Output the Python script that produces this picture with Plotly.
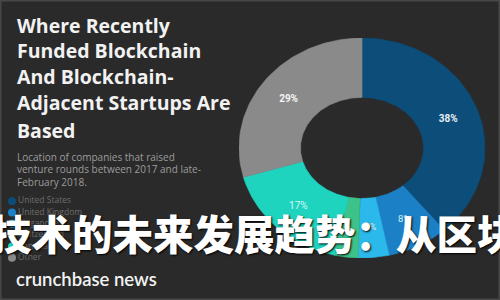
import numpy as np
import plotly.graph_objects as go

# ---- data ----
countries = ["United States", "United Kingdom", "Singapore", "Switzerland", "Canada", "Other"]
shares = [38, 8, 4, 3, 17, 29]
slice_labels = ["<b>38%</b>", "8%", "4%", "", "17%", "<b>29%</b>"]
title_lines = ["Where Recently", "Funded Blockchain", "And Blockchain-",
               "Adjacent Startups Are", "Based"]
subtitle_lines = ["Location of companies that raised",
                  "venture rounds between 2017 and late-",
                  "February 2018."]
overlay_text = "技术的未来发展趋势：从区块"
brand_text = "crunchbase news"

# ---- styles ----
BG = "#2a2a2a"
slice_colors = ["#0c4d7a", "#1b80c6", "#2bb8ea", "#3dc289", "#1fd4bf", "#8a8a8a"]
label_colors = ["#e8eef2", "#d8eefa", "#d5f3fb", "#ffffff", "#d9f7f3", "#f4f4f4"]
label_sizes = [10, 9.5, 8.5, 8, 10, 10]
HOLE_X, HOLE_Y = 0.50, 0.46

fig = go.Figure()

# ---- donut: wedges computed from the shares, drawn on axes x2/y2 ----
vals = np.asarray(shares, dtype=float)
edges = np.concatenate([[0.0], np.cumsum(vals)]) / vals.sum() * 2 * np.pi
for i, country in enumerate(countries):
    t = np.linspace(edges[i], edges[i + 1], 80)
    xs = np.concatenate([np.sin(t), HOLE_X * np.sin(t[::-1])])
    ys = np.concatenate([np.cos(t), HOLE_Y * np.cos(t[::-1])])
    fig.add_trace(go.Scatter(
        x=np.append(xs, xs[0]), y=np.append(ys, ys[0]),
        mode="lines", fill="toself", fillcolor=slice_colors[i],
        line=dict(color=slice_colors[i], width=0.6),
        name=country, hoverinfo="skip", xaxis="x2", yaxis="y2",
    ))

mid = (edges[:-1] + edges[1:]) / 2
fig.add_trace(go.Scatter(
    x=(1 + HOLE_X) / 2 * np.sin(mid), y=(1 + HOLE_Y) / 2 * np.cos(mid),
    mode="text", text=slice_labels,
    textfont=dict(family="Roboto", size=label_sizes, color=label_colors),
    hoverinfo="skip", xaxis="x2", yaxis="y2",
))

# ---- legend drawn as a marker column on its own axes ----
fig.add_trace(go.Scatter(
    x=[0] * len(countries),
    y=countries,
    mode="markers+text",
    marker=dict(size=8, color=slice_colors, symbol="circle"),
    text=countries,
    textposition="middle right",
    textfont=dict(family="Open Sans", size=8.5, color="#6c6c6c"),
    hoverinfo="skip",
    cliponaxis=False,
))

annotations = []
title_y = [25, 50.5, 76.5, 103, 130]
for line, yp in zip(title_lines, title_y):
    annotations.append(dict(
        text=line, x=15 / 500, y=1 - yp / 300, xref="paper", yref="paper",
        xanchor="left", yanchor="middle", showarrow=False,
        font=dict(family="Open Sans", size=19.5, color="#f2f2f2", weight=700)))
sub_y = [157, 169.5, 182]
for line, yp in zip(subtitle_lines, sub_y):
    annotations.append(dict(
        text=line, x=15 / 500, y=1 - yp / 300, xref="paper", yref="paper",
        xanchor="left", yanchor="middle", showarrow=False,
        font=dict(family="Open Sans", size=10, color="#9c9c9c")))
annotations.append(dict(
    text=brand_text, x=14 / 500, y=1 - 279 / 300, xref="paper", yref="paper",
    xanchor="left", yanchor="middle", showarrow=False,
    font=dict(family="Lato", size=18.5, color="#f2f2f2", weight=600)))
annotations.append(dict(
    text=overlay_text, x=254 / 500, y=1 - 233 / 300, xref="paper", yref="paper",
    xanchor="center", yanchor="middle", showarrow=False,
    font=dict(family="Noto Sans CJK SC", size=40.5, color="#ffffff", weight=900,
              shadow="1px 1px 2px #000000")))

fig.update_layout(
    width=500, height=300,
    margin=dict(l=0, r=0, t=0, b=0),
    paper_bgcolor=BG, plot_bgcolor="rgba(0,0,0,0)",
    showlegend=False,
    xaxis=dict(domain=[12 / 500, 0.3], range=[0, 1], visible=False, fixedrange=True),
    yaxis=dict(domain=[1 - 263.3 / 300, 1 - 195.7 / 300], range=[5.5, -0.5],
               type="category", visible=False, fixedrange=True),
    xaxis2=dict(domain=[(362 - 123) / 500, (362 + 123) / 500], range=[-1, 1],
                visible=False, fixedrange=True, anchor="y2"),
    yaxis2=dict(domain=[(300 - 258) / 300, (300 - 38) / 300], range=[-1, 1],
                visible=False, fixedrange=True, anchor="x2"),
    annotations=annotations,
    shapes=[dict(type="rect", xref="paper", yref="paper", x0=0, y0=0, x1=1, y1=1,
                 line=dict(color="#474747", width=3), layer="above")],
)

fig.write_html("out.html")
